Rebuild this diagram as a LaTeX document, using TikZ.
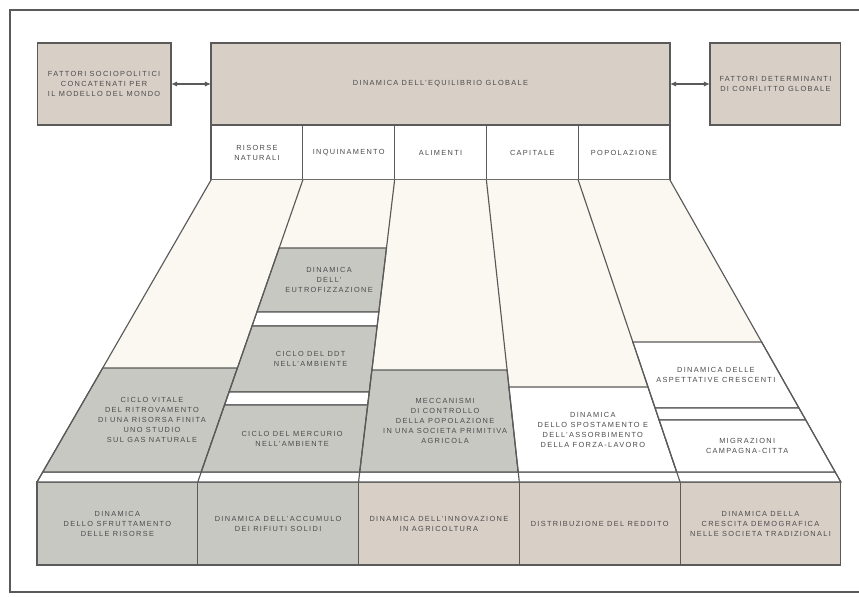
\documentclass[tikz,border=0pt]{standalone}
\usepackage{fontspec}
\setmainfont{Liberation Sans}[LetterSpace=18]
\usetikzlibrary{arrows.meta,positioning,calc}

\definecolor{boxtan}{RGB}{216,207,199}
\definecolor{boxgrey}{RGB}{200,200,195}
\definecolor{fancream}{RGB}{250,248,241}
\definecolor{inkgrey}{RGB}{75,75,75}
\definecolor{linegrey}{RGB}{90,90,90}

% a slice of the fan between line #1 and line #2, from height #3 down to #4
\newcommand{\fancell}[7]{%
  \path[#5] ($(t#1)!{(#3-180)/302}!(b#1)$) coordinate (#6a)
    -- ($(t#2)!{(#3-180)/302}!(b#2)$) coordinate (#6b)
    -- ($(t#2)!{(#4-180)/302}!(b#2)$) coordinate (#6c)
    -- ($(t#1)!{(#4-180)/302}!(b#1)$) coordinate (#6d) -- cycle;
  \node[lbl] (#6) at ($(#6a)!0.5!(#6c)$) {#7};}

\begin{document}
\begin{tikzpicture}[x=0.02cm, y=-0.02cm, >={Latex[length=3.5pt,width=3pt]},
  font=\fontsize{4.2}{5.7}\selectfont, line width=0.65pt,
  lbl/.style={align=center, text=inkgrey, inner sep=0pt},
  box/.style={draw=linegrey, fill=boxtan, align=center, text=inkgrey,
    inner sep=2pt, outer sep=0pt, minimum height=1.64cm},
  hcell/.style={box, fill=white, minimum width=1.836cm, minimum height=1.1cm},
  base/.style={box, minimum width=3.216cm, minimum height=1.66cm},
  cell/.style={draw=linegrey, fill=boxgrey},
  gap/.style={draw=linegrey, fill=white}]
\useasboundingbox (0,0) rectangle (859,596);
\draw[linegrey, line width=1.1pt] (859,10) -- (10,10) -- (10,592) -- (859,592);

\node[box, minimum width=9.18cm] (glob) at (440.5,84)
  {DINAMICA DELL'EQUILIBRIO GLOBALE};
\node[box, minimum width=2.68cm, left=0.8cm of glob] (soc)
  {FATTORI SOCIOPOLITICI\\CONCATENATI PER\\IL MODELLO DEL MONDO};
\node[box, minimum width=2.62cm, right=0.8cm of glob] (conf)
  {FATTORI DETERMINANTI\\DI CONFLITTO GLOBALE};
\draw[<->, linegrey] (soc) -- (glob);
\draw[<->, linegrey] (glob) -- (conf);

\node[hcell, anchor=north west] (ris) at (glob.south west) {RISORSE\\NATURALI};
\node[hcell, right=0pt of ris] (inq) {INQUINAMENTO};
\node[hcell, right=0pt of inq] (ali) {ALIMENTI};
\node[hcell, right=0pt of ali] (cap) {CAPITALE};
\node[hcell, right=0pt of cap] (pop) {POPOLAZIONE};

\node[base, fill=boxgrey, anchor=north west] (sfr) at (37,482)
  {DINAMICA\\DELLO SFRUTTAMENTO\\DELLE RISORSE};
\node[base, fill=boxgrey, right=0pt of sfr] (rif)
  {DINAMICA DELL'ACCUMULO\\DEI RIFIUTI SOLIDI};
\node[base, right=0pt of rif] (inn) {DINAMICA DELL'INNOVAZIONE\\IN AGRICOLTURA};
\node[base, right=0pt of inn] (red) {DISTRIBUZIONE DEL REDDITO};
\node[base, right=0pt of red] (dem)
  {DINAMICA DELLA\\CRESCITA DEMOGRAFICA\\NELLE SOCIETA TRADIZIONALI};

\foreach \n/\i in {ris/0,inq/1,ali/2,cap/3,pop/4}
  \coordinate (t\i) at (\n.south west);
\coordinate (t5) at (pop.south east);
\foreach \n/\i in {sfr/0,rif/1,inn/2,red/3,dem/4}
  \coordinate (b\i) at (\n.north west);
\coordinate (b5) at (dem.north east);

\fill[fancream] (t0) -- (t5) -- (b5) -- (b0) -- cycle;
\fancell{0}{5}{472}{482}{gap}{strip}{}

\fancell{0}{1}{368}{472}{cell}{vit}
  {CICLO VITALE\\DEL RITROVAMENTO\\DI UNA RISORSA FINITA\\UNO STUDIO\\SUL GAS NATURALE}
\fancell{1}{2}{248}{312}{cell}{eut}{DINAMICA\\DELL'\\EUTROFIZZAZIONE}
\fancell{1}{2}{312}{326}{gap}{gapa}{}
\fancell{1}{2}{326}{392}{cell}{ddt}{CICLO DEL DDT\\NELL'AMBIENTE}
\fancell{1}{2}{392}{405}{gap}{gapb}{}
\fancell{1}{2}{405}{472}{cell}{mer}{CICLO DEL MERCURIO\\NELL'AMBIENTE}
\fancell{2}{3}{370}{472}{cell}{mec}
  {MECCANISMI\\DI CONTROLLO\\DELLA POPOLAZIONE\\IN UNA SOCIETA PRIMITIVA\\AGRICOLA}
\fancell{3}{4}{387}{472}{gap}{spo}
  {DINAMICA\\DELLO SPOSTAMENTO E\\DELL'ASSORBIMENTO\\DELLA FORZA-LAVORO}
\fancell{4}{5}{342}{408}{gap}{asp}{DINAMICA DELLE\\ASPETTATIVE CRESCENTI}
\fancell{4}{5}{408}{420}{gap}{gapc}{}
\fancell{4}{5}{420}{472}{gap}{mig}{MIGRAZIONI\\CAMPAGNA-CITTA}

\foreach \i in {0,...,5}
  \draw[linegrey] (t\i) -- (b\i);
\end{tikzpicture}
\end{document}
